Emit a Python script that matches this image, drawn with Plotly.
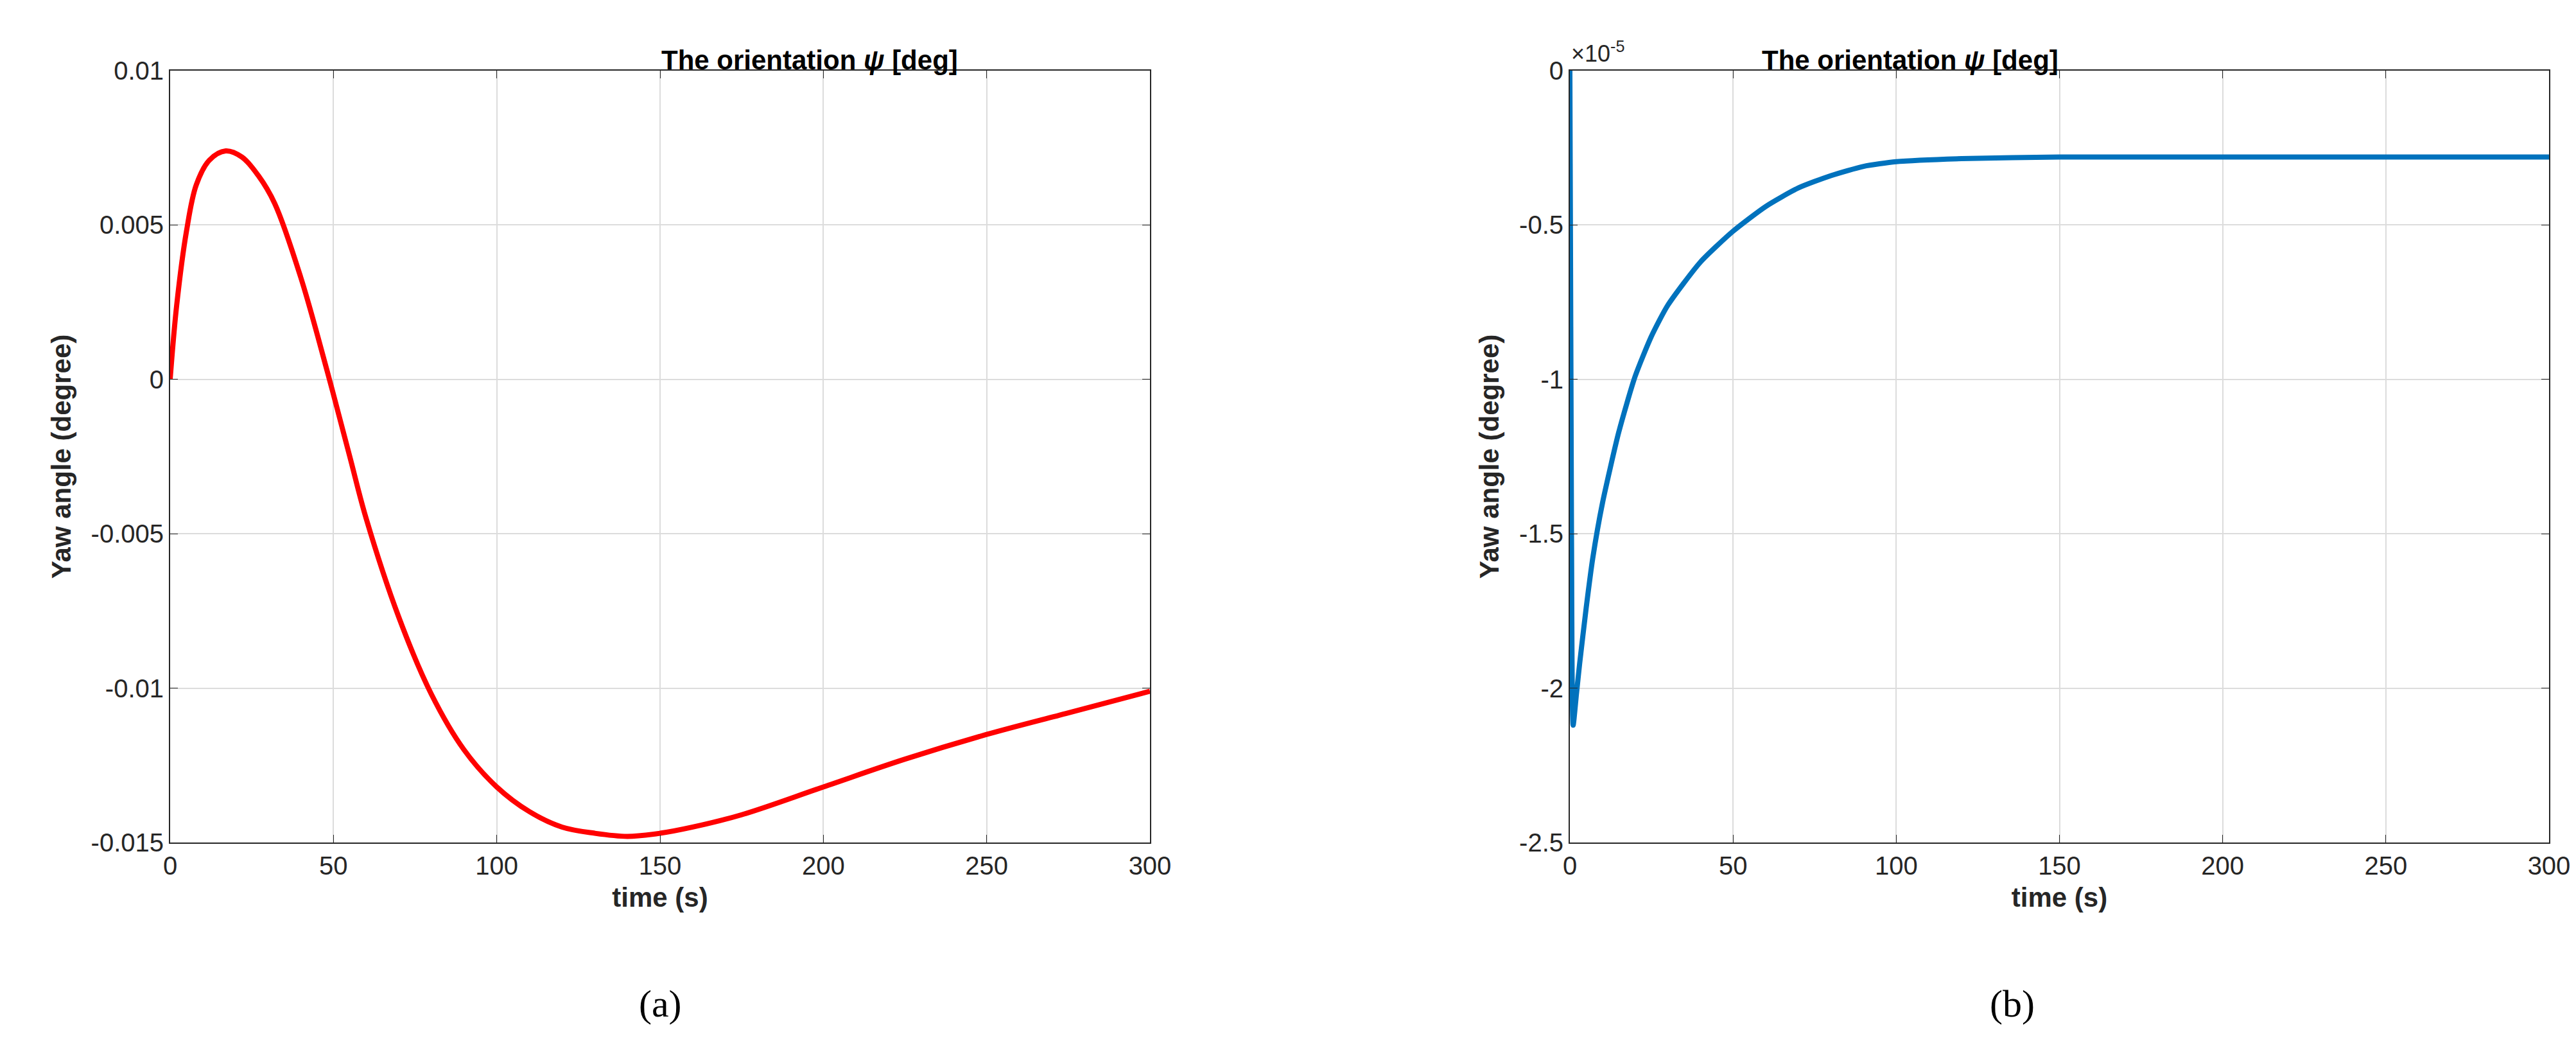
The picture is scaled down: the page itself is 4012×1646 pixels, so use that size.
import plotly.graph_objects as go

t_a = [0, 2, 5, 8, 12, 17, 22, 27, 32, 40, 48, 55, 60, 70, 80, 90, 100, 110, 120, 130, 140, 150, 160, 175, 200, 225, 250, 275, 300]
y_a = [0, 0.0024, 0.0048, 0.0063, 0.0071, 0.0074, 0.0072, 0.0066, 0.0057, 0.0033, 0.0003, -0.0025, -0.0045, -0.0077, -0.0102, -0.0120, -0.0132, -0.0140, -0.0145, -0.0147, -0.0148, -0.0147, -0.0145, -0.0141, -0.0132, -0.0123, -0.0115, -0.0108, -0.0101]
t_b = [0, 0.5, 1, 2, 3, 5, 7, 10, 15, 20, 25, 30, 40, 50, 60, 70, 80, 90, 100, 120, 150, 200, 300]
y_b = [0, -1.5, -2.12, -2.02, -1.92, -1.74, -1.58, -1.4, -1.17, -0.99, -0.86, -0.76, -0.62, -0.52, -0.44, -0.38, -0.34, -0.31, -0.295, -0.285, -0.28, -0.28, -0.28]
y_b = [v * 1e-5 for v in y_b]

W, H = 4012, 1646
fig = go.Figure()
fig.add_trace(go.Scatter(x=t_a, y=y_a, mode="lines", line=dict(color="#ff0000", width=8, shape="spline", smoothing=1.0), xaxis="x", yaxis="y"))
fig.add_trace(go.Scatter(x=t_b, y=y_b, mode="lines", line=dict(color="#0072bd", width=8, shape="spline", smoothing=0.6), xaxis="x2", yaxis="y2"))

font = dict(family="Liberation Sans", size=40, color="#262626")
lfont = dict(family="Liberation Sans", size=42, color="#262626")
ax = dict(range=[0, 300], tickvals=[0, 50, 100, 150, 200, 250, 300], showgrid=True, gridcolor="#dcdcdc", gridwidth=2,
          showline=True, linecolor="#262626", linewidth=2, mirror="ticks", ticks="inside", ticklen=12, tickcolor="#262626",
          zeroline=False, tickfont=font, automargin=False, title=dict(text="<b>time (s)</b>", font=lfont, standoff=14))
yd = [1 - 1304 / H, 1 - 102 / H]
fig.update_layout(
    width=W, height=H, paper_bgcolor="white", plot_bgcolor="white", showlegend=False,
    margin=dict(l=0, r=0, t=0, b=0, autoexpand=False),
    xaxis=dict(ax, domain=[257 / W, 1783 / W], anchor="y"),
    xaxis2=dict(ax, domain=[2437 / W, 3962 / W], anchor="y2"),
    yaxis=dict(ax, domain=yd, anchor="x", range=[-0.015, 0.01],
               tickvals=[-0.015, -0.01, -0.005, 0, 0.005, 0.01], ticktext=["-0.015", "-0.01", "-0.005", "0", "0.005", "0.01"],
               title=dict(text="<b>Yaw angle (degree)</b>", font=lfont, standoff=18)),
    yaxis2=dict(ax, domain=yd, anchor="x2", range=[-2.5e-5, 0],
                tickvals=[-2.5e-5, -2e-5, -1.5e-5, -1e-5, -0.5e-5, 0], ticktext=["-2.5", "-2", "-1.5", "-1", "-0.5", "0"],
                title=dict(text="<b>Yaw angle (degree)</b>", font=lfont, standoff=18)),
)
tfont = dict(family="Liberation Sans", size=42, color="#000000")
fig.add_annotation(text="<b>The orientation <i>ψ</i> [deg]</b>", x=(257 + 1783) / 2 / W, y=1 - 60 / H, xref="paper", yref="paper", showarrow=False, font=tfont)
fig.add_annotation(text="<b>The orientation <i>ψ</i> [deg]</b>", x=(2437 + 3962) / 2 / W, y=1 - 60 / H, xref="paper", yref="paper", showarrow=False, font=tfont)
fig.add_annotation(text="×10<sup>-5</sup>", x=2437 / W, y=1 - 98 / H, xref="paper", yref="paper", xanchor="left", yanchor="bottom", showarrow=False, font=dict(family="Liberation Sans", size=36, color="#262626"))
cfont = dict(family="Liberation Serif", size=60, color="#000000")
fig.add_annotation(text="(a)", x=985 / W, y=1 - 1590 / H, xref="paper", yref="paper", showarrow=False, font=cfont)
fig.add_annotation(text="(b)", x=(2006 + 900 * 1.286) / W, y=1 - 1590 / H, xref="paper", yref="paper", showarrow=False, font=cfont)
fig.write_html("out.html")
